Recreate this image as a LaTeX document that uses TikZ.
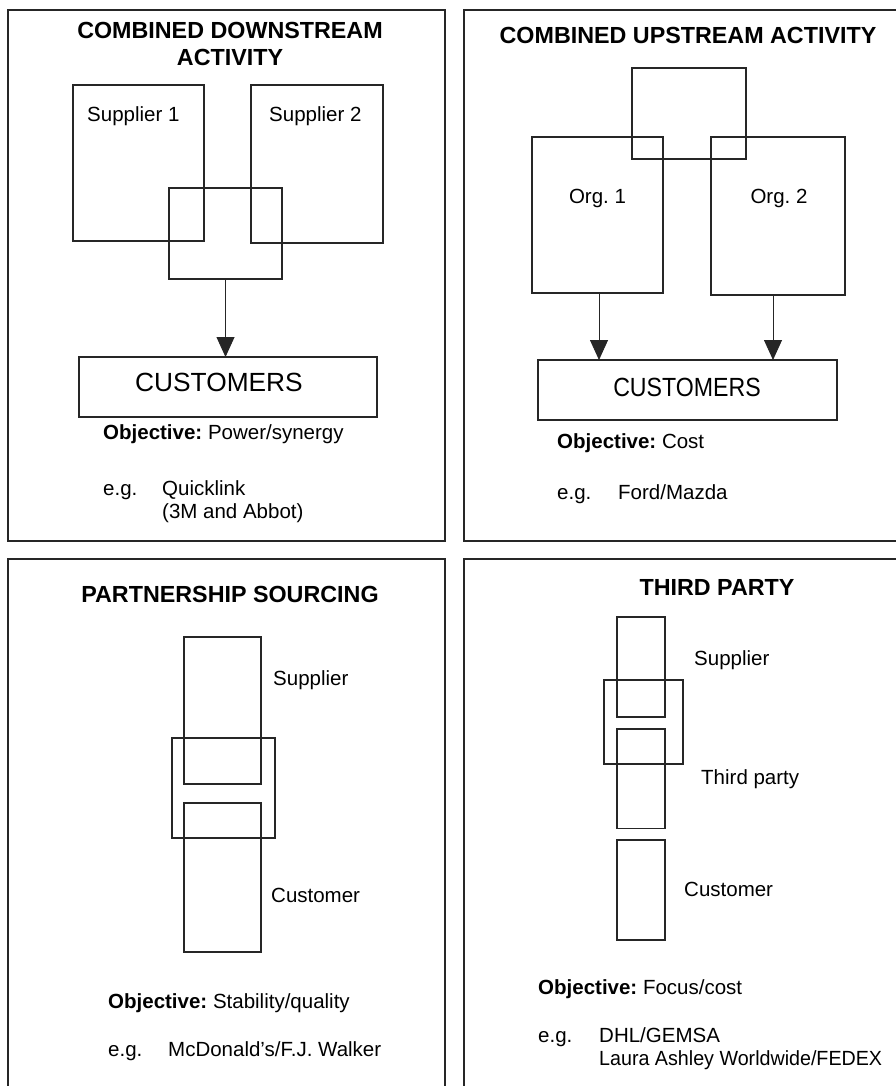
\documentclass[tikz,border=0pt]{standalone}
\usepackage{fontspec}
\setmainfont{Liberation Sans}
\usetikzlibrary{arrows.meta}
\frenchspacing
\begin{document}
\begin{tikzpicture}[x=1pt,y=-1pt,
  ink/.style={draw=black!85, line width=1.1pt},
  frame/.style={ink},
  box/.style={ink, rectangle, inner sep=0pt, outer sep=0pt},
  heading/.style={font=\fontsize{23.3}{27}\selectfont\bfseries, inner sep=0pt, anchor=base},
  txt/.style={font=\fontsize{20.5}{23}\selectfont, inner sep=0pt, anchor=base west},
  ctxt/.style={txt, anchor=base},
  bigtxt/.style={font=\fontsize{26.3}{30}\selectfont, inner sep=0pt, anchor=base},
  arr/.style={draw=black!85, line width=0.9pt, -{Triangle[width=18pt,length=20pt]}},
]
\useasboundingbox (0,0) rectangle (896,1086);
\clip (0,0) rectangle (896,1086);
\fill[white] (0,0) rectangle (896,1086);

% ---------- panel frames ----------
\draw[frame] (8,10) rectangle (445,541);
\draw[frame] (464,10) rectangle (905,541);
\draw[frame] (8,559) rectangle (445,1100);
\draw[frame] (464,559) rectangle (905,1100);

% ---------- combined downstream activity ----------
\node[heading] (t1a) at (230,39) {COMBINED DOWNSTREAM};
\node[heading] (t1b) at (230,66) {ACTIVITY};
\node[box, minimum width=131pt, minimum height=156pt] (s1) at (138.5,163) {};
\node[box, minimum width=132pt, minimum height=158pt] (s2) at (317,164) {};
\node[box, minimum width=113pt, minimum height=91pt] (m1) at (225.5,233.5) {};
\node[box, minimum width=298pt, minimum height=60pt] (c1) at (228,387) {};
\node[txt] (s1l) at (87,122) {Supplier 1};
\node[txt] (s2l) at (269,122) {Supplier 2};
\node[bigtxt] (c1l) at (219,391) {CUSTOMERS};
\draw[arr] (m1.south) -- (m1.south |- c1.north);
\node[txt] (obj1) at (103,439) {\textbf{Objective:} Power/synergy};
\node[txt] (eg1) at (103,495) {e.g.};
\node[txt] (ex1a) at (162,495) {Quicklink};
\node[txt] (ex1b) at (162,518) {(3M and Abbot)};

% ---------- combined upstream activity ----------
\node[heading] (t2) at (688,44) {COMBINED UPSTREAM ACTIVITY};
\node[box, minimum width=114pt, minimum height=91pt] (u2) at (689,113.5) {};
\node[box, minimum width=131pt, minimum height=156pt] (o1) at (597.5,215) {};
\node[box, minimum width=134pt, minimum height=158pt] (o2) at (778,216) {};
\node[box, minimum width=299pt, minimum height=60pt] (c2) at (687.5,390) {};
\node[ctxt] (o1l) at (597.5,204) {Org. 1};
\node[ctxt] (o2l) at (779,204) {Org. 2};
\node[bigtxt] (c2l) at (687,396) {\scalebox{0.88}[1]{CUSTOMERS}};
\draw[arr] ([xshift=1.5pt]o1.south) -- ([xshift=1.5pt]o1.south |- c2.north);
\draw[arr] ([xshift=-5pt]o2.south) -- ([xshift=-5pt]o2.south |- c2.north);
\node[txt] (obj2) at (557,448) {\textbf{Objective:} Cost};
\node[txt] (eg2) at (557,499) {e.g.};
\node[txt] (ex2) at (618,499) {Ford/Mazda};

% ---------- partnership sourcing ----------
\node[heading] (t3) at (230,602) {PARTNERSHIP SOURCING};
\node[box, minimum width=77pt, minimum height=147pt] (sp3) at (222.5,710.5) {};
\node[box, minimum width=103pt, minimum height=100pt] (m3) at (223.5,788) {};
\node[box, minimum width=77pt, minimum height=149pt] (cu3) at (222.5,877.5) {};
\node[txt] (sp3l) at (273,685) {Supplier};
\node[txt] (cu3l) at (271,902) {Customer};
\node[txt] (obj3) at (108,1008) {\textbf{Objective:} Stability/quality};
\node[txt] (eg3) at (108,1056) {e.g.};
\node[txt] (ex3) at (168,1056) {McDonald's/F.J. Walker};

% ---------- third party ----------
\node[heading] (t4) at (717,595) {THIRD PARTY};
\node[box, minimum width=48pt, minimum height=100pt] (sp4) at (641,667) {};
\node[box, minimum width=79pt, minimum height=84pt] (m4) at (643.5,722) {};
\node[box, minimum width=48pt, minimum height=99.5pt] (tp4) at (641,778.75) {};
\node[box, minimum width=48pt, minimum height=100pt] (cu4) at (641,890) {};
\node[txt] (sp4l) at (694,665) {Supplier};
\node[txt] (tp4l) at (701,784) {Third party};
\node[txt] (cu4l) at (684,896) {Customer};
\node[txt] (obj4) at (538,994) {\textbf{Objective:} Focus/cost};
\node[txt] (eg4) at (538,1042) {e.g.};
\node[txt] (ex4a) at (599,1042) {DHL/GEMSA};
\node[txt] (ex4b) at (599,1065) {\scalebox{0.96}[1]{Laura Ashley Worldwide/FEDEX}};
\end{tikzpicture}
\end{document}
